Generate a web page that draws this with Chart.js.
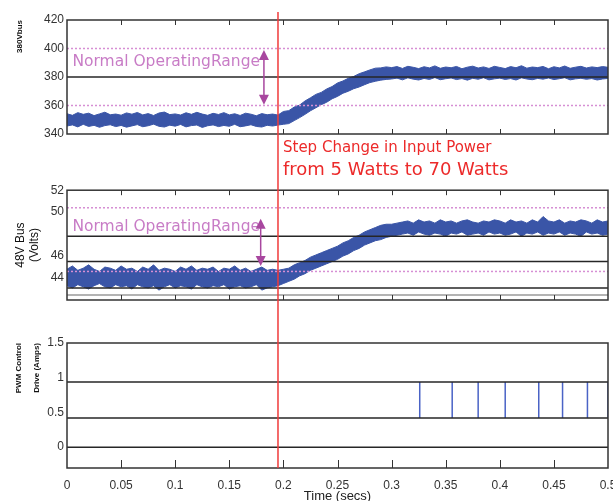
<!DOCTYPE html>
<html>
<head>
<meta charset="utf-8">
<title>Bus voltages after input power step</title>
<script src="https://cdn.jsdelivr.net/npm/chart.js@4.4.1/dist/chart.umd.min.js"></script>
<style>
  html, body { margin: 0; padding: 0; background: #fff; }
  #wrap { position: relative; width: 613px; height: 501px; overflow: hidden; }
  .panel { position: absolute; left: 0; width: 613px; }
  #busHighBox { top: 0; height: 180px; }
  #busLowBox { top: 180px; height: 150px; }
  #pwmBox { top: 330px; height: 171px; }
</style>
</head>
<body>
<div id="wrap">
  <div class="panel" id="busHighBox"><canvas id="busHighChart"></canvas></div>
  <div class="panel" id="busLowBox"><canvas id="busLowChart"></canvas></div>
  <div class="panel" id="pwmBox"><canvas id="pwmChart"></canvas></div>
</div>

<script>
// Time axis (seconds)
const timeTicks = [0, 0.05, 0.1, 0.15, 0.2, 0.25, 0.3, 0.35, 0.4, 0.45, 0.5];
const stepTime = 0.195;

// Sample instants for the measured bus traces
const sampleTimes = [
  0, 0.005, 0.01, 0.015, 0.02, 0.025, 0.03, 0.035, 0.04, 0.045,
  0.05, 0.055, 0.06, 0.065, 0.07, 0.075, 0.08, 0.085, 0.09, 0.095,
  0.1, 0.105, 0.11, 0.115, 0.12, 0.125, 0.13, 0.135, 0.14, 0.145,
  0.15, 0.155, 0.16, 0.165, 0.17, 0.175, 0.18, 0.185, 0.19, 0.195,
  0.2, 0.205, 0.21, 0.215, 0.22, 0.225, 0.23, 0.235, 0.24, 0.245,
  0.25, 0.255, 0.26, 0.265, 0.27, 0.275, 0.28, 0.285, 0.29, 0.295,
  0.3, 0.305, 0.31, 0.315, 0.32, 0.325, 0.33, 0.335, 0.34, 0.345,
  0.35, 0.355, 0.36, 0.365, 0.37, 0.375, 0.38, 0.385, 0.39, 0.395,
  0.4, 0.405, 0.41, 0.415, 0.42, 0.425, 0.43, 0.435, 0.44, 0.445,
  0.45, 0.455, 0.46, 0.465, 0.47, 0.475, 0.48, 0.485, 0.49, 0.495,
  0.5
];

// 380V bus: upper / lower edge of the ripple band
const bus380Upper = [
  354.2, 353.1, 355.0, 353.8, 354.6, 352.9, 354.1, 355.3, 353.5, 354.0,
  353.2, 354.8, 353.9, 355.1, 353.4, 354.3, 353.0, 354.7, 355.4, 353.6,
  354.1, 353.3, 354.9, 353.8, 355.2, 354.0, 353.1, 354.5, 353.7, 355.0,
  353.4, 354.2, 353.0, 354.6, 353.9, 352.8, 354.3, 353.5, 354.0, 353.3,
  355.8, 356.4, 358.9, 360.3, 363.2, 365.4, 367.8, 369.2, 371.6, 373.3,
  375.8, 377.2, 379.1, 380.4, 382.3, 383.6, 385.0, 386.2, 386.4, 387.1,
  386.6, 387.3, 386.0, 387.5, 386.8, 385.9, 387.2, 386.4, 387.8, 386.1,
  387.0, 386.5, 387.4, 385.8, 386.9, 387.6, 386.3, 387.1, 386.0, 387.5,
  386.7, 385.9, 387.3, 386.5, 387.9, 386.2, 387.0, 386.6, 387.4, 385.8,
  387.2, 386.4, 387.7, 386.1, 386.9, 387.5, 386.3, 387.1, 386.6, 387.3,
  386.8
];
const bus380Lower = [
  345.6, 346.4, 345.0, 346.8, 345.3, 346.1, 344.7, 345.9, 346.5, 345.2,
  346.0, 344.8, 345.7, 346.6, 345.1, 345.8, 346.9, 345.4, 344.9, 346.2,
  345.5, 346.7, 345.0, 345.9, 346.3, 344.6, 345.8, 346.4, 345.2, 346.0,
  345.4, 346.8, 345.1, 345.7, 346.5, 345.3, 344.9, 346.1, 345.6, 346.3,
  346.8, 347.3, 349.4, 351.5, 353.8, 356.3, 358.4, 360.6, 362.3, 364.7,
  366.4, 368.6, 370.0, 371.8, 373.0, 374.6, 376.1, 377.0, 377.8, 378.3,
  378.6, 379.2, 378.0, 379.4, 378.5, 377.9, 379.0, 378.3, 379.6, 378.1,
  378.8, 379.3, 378.2, 378.9, 377.8, 379.1, 378.4, 379.5, 378.0, 378.7,
  379.2, 378.3, 378.9, 377.9, 379.4, 378.6, 378.1, 379.0, 378.5, 379.3,
  378.2, 378.8, 379.5, 378.0, 378.7, 379.1, 378.4, 378.9, 377.9, 378.6,
  379.0
];

// 48V bus: upper / lower edge of the ripple band
const bus48Upper = [
  44.8, 45.1, 44.7, 44.9, 45.2, 44.8, 44.6, 45.0, 44.9, 44.7,
  45.1, 44.8, 44.9, 44.6, 45.0, 44.8, 45.2, 44.7, 44.9, 44.8,
  44.6, 45.0, 44.8, 45.1, 44.7, 44.9, 44.8, 45.0, 44.6, 44.9,
  44.8, 45.1, 44.7, 44.9, 44.6, 44.8, 45.0, 44.7, 44.8, 44.7,
  44.8, 44.9, 45.2, 45.4, 45.6, 45.9, 46.1, 46.3, 46.5, 46.7,
  46.9, 47.2, 47.4, 47.7, 47.9, 48.2, 48.4, 48.6, 48.8, 48.9,
  48.9, 49.0, 49.1, 49.2, 49.0, 49.3, 49.1, 49.2, 49.0, 49.3,
  49.1, 49.2, 49.0, 49.2, 49.3, 49.1, 49.0, 49.2, 49.1, 49.3,
  49.2, 49.0, 49.3, 49.1, 49.2, 49.0, 49.3, 49.1, 49.6, 49.2,
  49.1, 49.3, 49.0, 49.2, 49.1, 49.3, 49.2, 49.0, 49.3, 49.1,
  49.2
];
const bus48Lower = [
  43.3, 43.1, 43.4, 43.2, 43.0, 43.3, 43.5, 43.2, 43.1, 43.4,
  43.2, 43.3, 43.0, 43.4, 43.2, 43.1, 43.3, 42.9, 43.2, 43.4,
  43.1, 43.3, 43.2, 43.0, 43.4, 43.2, 43.1, 43.3, 43.2, 43.4,
  43.0, 43.2, 43.3, 43.1, 43.2, 43.4, 42.9, 43.1, 43.2, 43.3,
  43.5, 43.7, 43.9, 44.2, 44.4, 44.7, 44.9, 45.1, 45.3, 45.5,
  45.7, 46.0, 46.2, 46.5, 46.7, 47.0, 47.2, 47.4, 47.5, 47.7,
  47.8, 47.9, 48.0, 48.1, 47.9, 48.2, 48.0, 47.9, 48.1, 48.0,
  47.8, 48.1, 48.0, 48.2, 47.9, 48.0, 48.1, 47.9, 48.2, 48.0,
  48.1, 47.9, 48.0, 48.2, 47.8, 48.1, 48.0, 48.2, 47.9, 48.1,
  48.0, 48.2, 47.9, 48.1, 48.0, 47.8, 48.2, 48.0, 48.1, 47.9,
  48.0
];

// Reference levels per panel
const bus380Ticks = [340, 360, 380, 400, 420];
const bus380Range = [360, 400];
const bus380Levels = [380];
const bus380Arrow = [0.182, 399, 360.5];   // time, top, bottom
const bus380NoteAt = [0.005, 387.7];

const bus48Ticks = [44, 46, 50, 52];
const bus48Range = [44.6, 50.4];
const bus48Levels = [47.8, 45.5, 43.1];
const bus48Floor = 42.45;
const bus48Arrow = [0.179, 49.4, 45.1];
const bus48NoteAt = [0.005, 48.3];

// PWM drive pulses
const pwmTicks = [0, 0.5, 1, 1.5];
const pwmLevels = [0.94, 0.42, 0];
const pulseTimes = [0.326, 0.356, 0.380, 0.405, 0.436, 0.458, 0.481, 0.5];
const pulseLow = 0.42;
const pulseHigh = 0.94;

const BAND = '#3a55a7';
const RANGE = '#d68fd4';
const LINE = '#262626';
const NOTE_FONT = '"DejaVu Sans"';

document.addEventListener('DOMContentLoaded', function() {
  initializeBusHigh();
  initializeBusLow();
  initializePwm();
});

// Frame, inward tick marks and the step marker line
const panelDecor = {
  id: 'panelDecor',
  afterDatasetsDraw(chart, args, opts) {
    const { ctx, chartArea: area } = chart;
    const x = chart.scales.x;
    ctx.save();
    ctx.strokeStyle = '#333';
    ctx.lineWidth = 1.5;
    ctx.strokeRect(area.left, area.top, area.right - area.left, area.bottom - area.top);

    ctx.lineWidth = 1;
    timeTicks.forEach(t => {
      if (t <= timeTicks[0] || t >= timeTicks[timeTicks.length - 1]) return;
      const px = Math.round(x.getPixelForValue(t)) + 0.5;
      if (opts.topTicks) {
        ctx.beginPath();
        ctx.moveTo(px, area.top);
        ctx.lineTo(px, area.top + opts.tickLen);
        ctx.stroke();
      }
      ctx.beginPath();
      ctx.moveTo(px, area.bottom);
      ctx.lineTo(px, area.bottom - opts.tickLen);
      ctx.stroke();
    });

    const sx = x.getPixelForValue(stepTime);
    ctx.strokeStyle = '#f03a3a';
    ctx.lineWidth = 1.5;
    ctx.beginPath();
    ctx.moveTo(sx, opts.stepFrom);
    ctx.lineTo(sx, opts.stopAtFrame ? area.bottom : chart.height);
    ctx.stroke();
    ctx.restore();
  }
};

// "Normal Operating Range" label with its double-headed arrow
const rangeNote = {
  id: 'rangeNote',
  afterDatasetsDraw(chart, args, opts) {
    if (!opts.arrow) return;
    const { ctx } = chart;
    const { x, y } = chart.scales;
    ctx.save();
    ctx.fillStyle = '#c87cc6';
    ctx.font = '15.5px ' + NOTE_FONT;
    ctx.textBaseline = 'alphabetic';
    ctx.fillText('Normal OperatingRange', x.getPixelForValue(opts.noteAt[0]), y.getPixelForValue(opts.noteAt[1]));

    const ax = x.getPixelForValue(opts.arrow[0]);
    const top = y.getPixelForValue(opts.arrow[1]);
    const bot = y.getPixelForValue(opts.arrow[2]);
    ctx.strokeStyle = '#a8479f';
    ctx.fillStyle = '#a8479f';
    ctx.lineWidth = 1.5;
    ctx.beginPath();
    ctx.moveTo(ax, top + 8);
    ctx.lineTo(ax, bot - 8);
    ctx.stroke();
    ctx.beginPath();
    ctx.moveTo(ax, top);
    ctx.lineTo(ax - 5, top + 10);
    ctx.lineTo(ax + 5, top + 10);
    ctx.closePath();
    ctx.fill();
    ctx.beginPath();
    ctx.moveTo(ax, bot);
    ctx.lineTo(ax - 5, bot - 10);
    ctx.lineTo(ax + 5, bot - 10);
    ctx.closePath();
    ctx.fill();
    ctx.restore();
  }
};

// Caption for the input power step, under the top panel
const stepNote = {
  id: 'stepNote',
  afterDraw(chart) {
    const { ctx, chartArea: area } = chart;
    const sx = chart.scales.x.getPixelForValue(stepTime) + 5;
    ctx.save();
    ctx.fillStyle = '#ec2a2a';
    ctx.font = '15px ' + NOTE_FONT;
    ctx.fillText('Step Change in Input Power', sx, area.bottom + 18);
    ctx.font = '18px ' + NOTE_FONT;
    ctx.fillText('from 5 Watts to 70 Watts', sx, area.bottom + 41);
    ctx.restore();
  }
};

function hLine(value, color, width, dash) {
  return {
    data: [{ x: timeTicks[0], y: value }, { x: timeTicks[timeTicks.length - 1], y: value }],
    borderColor: color,
    borderWidth: width,
    borderDash: dash || [],
    pointRadius: 0,
    fill: false
  };
}

function bandPair(lower, upper) {
  const lo = sampleTimes.map((t, i) => ({ x: t, y: lower[i] }));
  const hi = sampleTimes.map((t, i) => ({ x: t, y: upper[i] }));
  return [
    { data: lo, borderColor: BAND, borderWidth: 1, pointRadius: 0, fill: false },
    { data: hi, borderColor: BAND, borderWidth: 1, pointRadius: 0, fill: '-1', backgroundColor: BAND }
  ];
}

function timeAxis(show) {
  return {
    type: 'linear',
    display: show,
    min: timeTicks[0],
    max: timeTicks[timeTicks.length - 1],
    afterBuildTicks: s => { s.ticks = timeTicks.map(v => ({ value: v })); },
    afterFit: s => {
      // keep the plot frame at the same width in every panel
      s.paddingLeft = 0;
      s.paddingRight = 0;
      if (show) s.height = 33;
    },
    grid: { display: false, drawTicks: false },
    border: { display: false },
    ticks: {
      color: '#333',
      padding: 10,
      maxRotation: 0,
      autoSkip: false,
      font: { family: 'Liberation Sans', size: 12 },
      callback: v => String(v)
    },
    title: {
      display: show,
      text: 'Time (secs)',
      color: '#222',
      padding: { top: 0, bottom: -2 },
      font: { family: 'Liberation Sans', size: 13, lineHeight: 1 }
    }
  };
}

function valueAxis(min, max, ticks, title, titleFont, titlePad, align) {
  return {
    min: min,
    max: max,
    afterBuildTicks: s => { s.ticks = ticks.map(v => ({ value: v })); },
    afterFit: s => { s.width = 67; },
    grid: { display: false, drawTicks: false },
    border: { display: false },
    ticks: {
      color: '#333',
      padding: 3,
      font: { family: 'Liberation Sans', size: 12 },
      callback: v => String(v)
    },
    title: {
      display: true,
      text: title,
      color: '#111',
      align: align,
      padding: { top: titlePad, bottom: 0 },
      font: titleFont
    }
  };
}

function baseOptions(padding, yScale, showTime, decor, note) {
  return {
    responsive: true,
    maintainAspectRatio: false,
    animation: false,
    layout: { padding: padding },
    plugins: {
      legend: { display: false },
      tooltip: { enabled: false },
      panelDecor: decor,
      rangeNote: note || {}
    },
    scales: { x: timeAxis(showTime), y: yScale }
  };
}

function initializeBusHigh() {
  const datasets = [
    ...bus380Levels.map(v => hLine(v, LINE, 1.5)),
    ...bus380Range.map(v => hLine(v, RANGE, 1.5, [2, 2])),
    ...bandPair(bus380Lower, bus380Upper)
  ];
  new Chart(document.getElementById('busHighChart'), {
    type: 'line',
    data: { datasets: datasets },
    options: baseOptions(
      { top: 20, right: 5, bottom: 46, left: 0 },
      valueAxis(340, 420, bus380Ticks, '380Vbus', { family: 'Liberation Sans', size: 8, weight: 'bold' }, 15, 'end'),
      false,
      { topTicks: true, tickLen: 5, stepFrom: 12 },
      { arrow: bus380Arrow, noteAt: bus380NoteAt }
    ),
    plugins: [panelDecor, rangeNote, stepNote]
  });
}

function initializeBusLow() {
  const datasets = [
    ...bus48Levels.map(v => hLine(v, LINE, 1.5)),
    hLine(bus48Floor, '#9a9a9a', 1.5),
    ...bus48Range.map(v => hLine(v, RANGE, 1.5, [2, 2])),
    ...bandPair(bus48Lower, bus48Upper)
  ];
  new Chart(document.getElementById('busLowChart'), {
    type: 'line',
    data: { datasets: datasets },
    options: baseOptions(
      { top: 8, right: 5, bottom: 30, left: 0 },
      valueAxis(42, 52, bus48Ticks, ['48V Bus', '(Volts)'], { family: 'Liberation Sans', size: 12 }, 13, 'center'),
      false,
      { topTicks: true, tickLen: 5, stepFrom: 0 },
      { arrow: bus48Arrow, noteAt: bus48NoteAt }
    ),
    plugins: [panelDecor, rangeNote]
  });
}

function initializePwm() {
  const pulses = [];
  pulseTimes.forEach(t => {
    pulses.push({ x: t, y: pulseLow }, { x: t, y: pulseHigh }, { x: t, y: null });
  });
  const datasets = [
    ...pwmLevels.map(v => hLine(v, LINE, 1.5)),
    { data: pulses, borderColor: '#4a63c6', borderWidth: 1.5, pointRadius: 0, fill: false, spanGaps: false }
  ];
  new Chart(document.getElementById('pwmChart'), {
    type: 'line',
    data: { datasets: datasets },
    options: baseOptions(
      { top: 13, right: 5, bottom: 0, left: 0 },
      valueAxis(-0.3, 1.5, pwmTicks, ['PWM Control', 'Drive (Amps)'], { family: 'Liberation Sans', size: 8, weight: 'bold', lineHeight: 2.2 }, 10, 'end'),
      true,
      { topTicks: false, tickLen: 8, stepFrom: 0, stopAtFrame: true },
      null
    ),
    plugins: [panelDecor]
  });
}
</script>
</body>
</html>
